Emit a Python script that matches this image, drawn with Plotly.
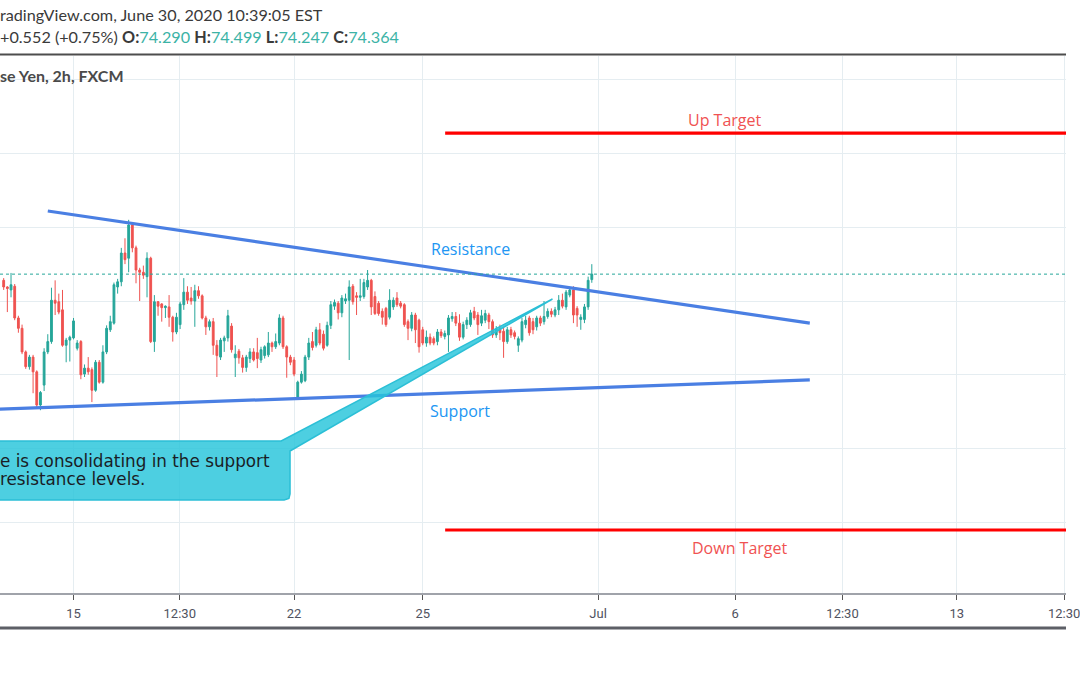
import plotly.graph_objects as go

# ---------------- data (AUD/JPY 2h, FXCM) ----------------
opens = [74.28,74.19,74.15,74.20,73.77,73.63,73.31,73.11,73.24,73.04,72.59,72.86,73.31,73.45,74.01,73.99,73.88,73.40,73.47,73.50,
         73.36,73.45,73.01,73.09,73.07,72.79,73.17,72.90,73.31,73.61,73.70,74.19,74.26,74.65,74.58,75.03,74.72,74.42,74.39,74.33,
         74.58,73.45,73.99,73.96,73.91,73.92,73.78,73.58,73.68,73.95,74.12,74.04,74.00,74.14,74.07,73.77,73.65,73.72,73.40,73.24,
         73.46,73.50,73.66,73.23,73.32,73.23,73.10,73.22,73.31,73.30,73.20,73.26,73.27,73.43,73.38,73.43,73.77,73.38,73.24,73.20,
         72.70,72.90,72.92,73.24,73.45,73.40,73.61,73.55,73.40,73.67,73.93,73.97,73.84,74.00,74.01,74.20,74.07,74.05,74.06,74.19,
         74.28,74.06,73.97,73.86,73.90,73.78,73.92,74.04,73.97,73.95,73.72,73.63,73.81,73.74,73.61,73.43,73.51,73.49,73.45,73.58,
         73.52,73.54,73.76,73.79,73.70,73.51,73.68,73.68,73.86,73.81,73.70,73.74,73.81,73.72,73.54,73.63,73.59,73.45,73.61,73.57,
         73.40,73.47,73.68,73.77,73.72,73.65,73.77,73.72,73.79,73.86,73.81,73.88,74.01,73.92,74.08,74.15,73.90,73.75,73.75,73.92,
         74.290]
highs = [74.31,74.20,74.38,74.23,73.80,73.68,73.33,73.27,73.27,73.06,72.78,73.36,73.55,74.18,74.28,74.10,74.15,73.50,73.53,73.77,
         73.47,73.47,73.14,73.24,73.10,73.20,73.20,73.40,73.67,73.80,74.25,74.30,74.72,74.85,75.10,75.07,74.75,74.45,74.48,74.66,
         74.60,74.08,74.00,73.97,73.94,74.08,73.80,73.84,73.99,74.31,74.20,74.19,74.22,74.20,74.09,73.80,73.75,73.77,73.47,73.50,
         73.53,73.88,73.70,73.40,73.35,73.27,73.27,73.36,73.36,73.50,73.38,73.40,73.58,73.45,73.56,73.82,73.80,73.40,73.27,73.24,
         72.92,73.05,73.27,73.50,73.58,73.65,73.70,73.60,73.72,74.00,74.02,74.00,74.08,74.10,74.28,74.23,74.12,74.30,74.30,74.42,
         74.30,74.13,74.00,73.90,73.92,74.16,74.05,74.12,74.00,73.97,73.75,73.85,73.84,73.76,73.65,73.60,73.56,73.52,73.62,73.62,
         73.60,73.81,73.85,73.85,73.82,73.72,73.78,73.88,73.92,73.85,73.88,73.88,73.84,73.75,73.66,73.68,73.65,73.65,73.65,73.60,
         73.52,73.77,73.80,73.80,73.77,73.80,73.80,74.00,73.90,73.90,73.92,74.08,74.10,74.15,74.19,74.20,73.93,73.82,73.96,74.33,
         74.499]
lows = [74.15,73.85,74.05,73.74,73.57,73.28,73.08,73.07,72.75,72.55,72.52,72.78,73.28,73.42,73.81,73.82,73.38,73.17,73.18,73.48,
        73.33,72.94,72.97,73.00,72.63,72.77,72.88,72.88,73.28,73.58,73.68,74.10,74.20,74.50,74.39,74.66,74.24,74.00,74.30,74.05,
        73.43,73.31,73.80,73.72,73.77,73.65,73.45,73.55,73.62,73.88,73.96,73.95,73.65,74.03,73.75,73.54,73.60,73.27,72.97,73.20,
        73.31,73.45,73.30,72.97,73.15,73.03,73.04,73.16,73.18,73.09,73.16,73.22,73.24,73.31,73.35,73.40,73.35,72.96,73.13,72.98,
        72.68,72.88,72.90,73.20,73.33,73.37,73.40,73.33,73.38,73.62,73.88,73.75,73.78,73.96,73.20,73.95,73.81,74.00,74.03,74.15,
        73.81,73.81,73.80,73.68,73.65,73.75,73.88,73.92,73.90,73.65,73.47,73.59,73.43,73.30,73.40,73.38,73.40,73.40,73.40,73.50,
        73.48,73.31,73.72,73.66,73.46,73.48,73.62,73.65,73.74,73.54,73.66,73.70,73.62,73.50,73.50,73.47,73.23,73.42,73.50,73.48,
        73.31,73.44,73.63,73.53,73.55,73.60,73.66,73.68,73.76,73.78,73.78,73.81,73.90,73.88,74.05,73.70,73.65,73.61,73.70,73.88,
        74.247]
closes = [74.19,74.17,74.22,73.77,73.63,73.31,73.11,73.24,73.04,72.59,72.76,73.31,73.45,74.01,73.97,73.85,73.40,73.47,73.51,73.73,
          73.43,73.00,73.09,73.04,72.79,73.17,72.90,73.31,73.63,73.72,74.22,74.26,74.65,74.56,75.03,74.72,74.42,74.39,74.35,74.58,
          73.45,73.99,73.93,73.91,73.93,73.78,73.58,73.78,73.96,74.12,74.01,74.00,74.14,74.07,73.77,73.65,73.72,73.40,73.26,73.47,
          73.50,73.80,73.34,73.28,73.23,73.10,73.24,73.31,73.20,73.22,73.34,73.38,73.43,73.38,73.45,73.77,73.38,73.24,73.17,73.01,
          72.90,73.01,73.24,73.43,73.37,73.61,73.43,73.36,73.67,73.95,73.98,73.84,74.04,74.03,74.19,73.99,74.05,74.07,74.25,74.28,
          73.92,73.83,73.83,73.78,73.68,74.01,74.01,73.95,73.93,73.68,73.63,73.81,73.61,73.38,73.43,73.51,73.43,73.43,73.58,73.53,
          73.56,73.77,73.79,73.70,73.51,73.68,73.74,73.84,73.77,73.68,73.80,73.83,73.72,73.54,73.62,73.57,73.45,73.61,73.54,73.52,
          73.49,73.72,73.74,73.57,73.61,73.77,73.70,73.79,73.86,73.82,73.88,74.01,73.93,74.12,74.15,73.81,73.81,73.78,73.92,74.28,
          74.364]
bar_index = list(range(1, len(closes) + 1))

tick_positions = [20, 48.9, 80, 115, 162.7, 200, 229.2, 260.3, 289.5]
tick_labels = ["15", "12:30", "22", "25", "Jul", "6", "12:30", "13", "12:30"]

last_price = 74.364

resistance_x = [13.0, 220.3]
resistance_y = [75.22, 73.70]
support_x = [-2.0, 220.3]
support_y = [72.53, 72.93]
up_target_x = [121.1, 300.0]
up_target_y = [76.276, 76.276]
down_target_x = [121.1, 300.0]
down_target_y = [70.897, 70.897]

callout_x = [-10.0, 76.5, 150.3, 78.9, 78.9, 78.6, 77.3, -10.0]
callout_y = [72.103, 72.103, 74.027, 71.967, 71.385, 71.325, 71.303, 71.303]

UP = "#26a69a"
DN = "#ef5350"
GRID = "#e5edf1"

fig = go.Figure()
fig.add_trace(go.Candlestick(
    x=bar_index, open=opens, high=highs, low=lows, close=closes,
    increasing=dict(line=dict(color=UP, width=1), fillcolor=UP),
    decreasing=dict(line=dict(color=DN, width=1), fillcolor=DN),
    whiskerwidth=0, showlegend=False, hoverinfo="skip"))

line_blue = "#4a7fe3"
fig.add_trace(go.Scatter(x=resistance_x, y=resistance_y, mode="lines",
                         line=dict(color=line_blue, width=3.2), showlegend=False, hoverinfo="skip"))
fig.add_trace(go.Scatter(x=support_x, y=support_y, mode="lines",
                         line=dict(color=line_blue, width=3.2), showlegend=False, hoverinfo="skip"))
fig.add_trace(go.Scatter(x=up_target_x, y=up_target_y, mode="lines",
                         line=dict(color="#ff0000", width=3.2), showlegend=False, hoverinfo="skip"))
fig.add_trace(go.Scatter(x=down_target_x, y=down_target_y, mode="lines",
                         line=dict(color="#ff0000", width=3.2), showlegend=False, hoverinfo="skip"))
fig.add_trace(go.Scatter(x=callout_x, y=callout_y, mode="lines", fill="toself",
                         fillcolor="rgba(38,196,218,0.82)",
                         line=dict(color="#2bbfd6", width=1.5), showlegend=False, hoverinfo="skip"))

# current price dotted line
fig.add_shape(type="line", xref="paper", x0=0, x1=1, yref="y", y0=last_price, y1=last_price,
              line=dict(color=UP, width=1, dash="dot"), layer="above")

# frame lines
fig.add_shape(type="line", xref="paper", x0=0, x1=1, yref="paper", y0=1.003, y1=1.003,
              line=dict(color="#4d4d4d", width=2))
fig.add_shape(type="line", xref="paper", x0=0, x1=1, yref="paper", y0=-0.0652, y1=-0.0652,
              line=dict(color="#5d5f66", width=3))

# drawing labels
fig.add_annotation(x=128.1, y=74.705, text="Resistance", showarrow=False,
                   font=dict(family="Open Sans", size=16, color="#2196f3"))
fig.add_annotation(x=125.1, y=72.509, text="Support", showarrow=False,
                   font=dict(family="Open Sans", size=16, color="#2196f3"))
fig.add_annotation(x=197.3, y=76.453, text="Up Target", showarrow=False,
                   font=dict(family="Open Sans", size=16, color="#f05252"))
fig.add_annotation(x=201.4, y=70.653, text="Down Target", showarrow=False,
                   font=dict(family="Open Sans", size=16, color="#f05252"))

# callout text (two lines, tight line spacing)
callout_lines = ["e is consolidating in the support", "resistance levels."]
for line_text, ypos in zip(callout_lines, [0.2458, 0.2123]):
    fig.add_annotation(xref="paper", yref="paper", x=0, y=ypos, xanchor="left", yanchor="middle",
                       xshift=-2, align="left", showarrow=False, text=line_text,
                       font=dict(family="DejaVu Sans", size=16.8, color="#1a1d26"))

# header texts
TEAL = "#3cb3a6"
def teal(s):
    return "<span style='color:" + TEAL + "'>" + s + "</span>"

ohlc_text = ("+0.552 (+0.75%) <b>O:</b>" + teal("74.290") + " <b>H:</b>" + teal("74.499")
             + " <b>L:</b>" + teal("74.247") + " <b>C:</b>" + teal("74.364"))

fig.add_annotation(xref="paper", yref="paper", x=0, y=1.0764, xanchor="left", yanchor="middle",
                   xshift=-2, showarrow=False,
                   text="radingView.com, June 30, 2020 10:39:05 EST",
                   font=dict(family="Lato", size=16.2, color="#3a3a3a"))
fig.add_annotation(xref="paper", yref="paper", x=0, y=1.0354, xanchor="left", yanchor="middle",
                   xshift=-2, showarrow=False, text=ohlc_text,
                   font=dict(family="Lato", size=16.2, color="#3a3a3a"))
fig.add_annotation(xref="paper", yref="paper", x=0, y=0.9646, xanchor="left", yanchor="middle",
                   xshift=-2, showarrow=False,
                   text="<b>se Yen, 2h, FXCM</b>",
                   font=dict(family="Lato", size=16, color="#4a4a4a"))

fig.update_layout(
    width=1080, height=675,
    margin=dict(l=0, r=0, t=56, b=82, pad=0),
    paper_bgcolor="white", plot_bgcolor="white",
    showlegend=False,
    xaxis=dict(range=[0, 290.0], rangeslider=dict(visible=False),
               tickmode="array", tickvals=tick_positions, ticktext=tick_labels,
               showgrid=True, gridcolor=GRID, gridwidth=1, zeroline=False,
               showline=True, linecolor="#a0a3aa", linewidth=2,
               ticks="outside", ticklen=5, tickcolor="#555", tickwidth=1,
               ticklabeloverflow="allow", ticklabelstandoff=2,
               tickfont=dict(family="Roboto", size=13, color="#4f5260")),
    yaxis=dict(range=[70.043, 77.320], tick0=0, dtick=1, showticklabels=False,
               showgrid=True, gridcolor=GRID, gridwidth=1, zeroline=False, showline=False),
)

fig.write_html("out.html")
